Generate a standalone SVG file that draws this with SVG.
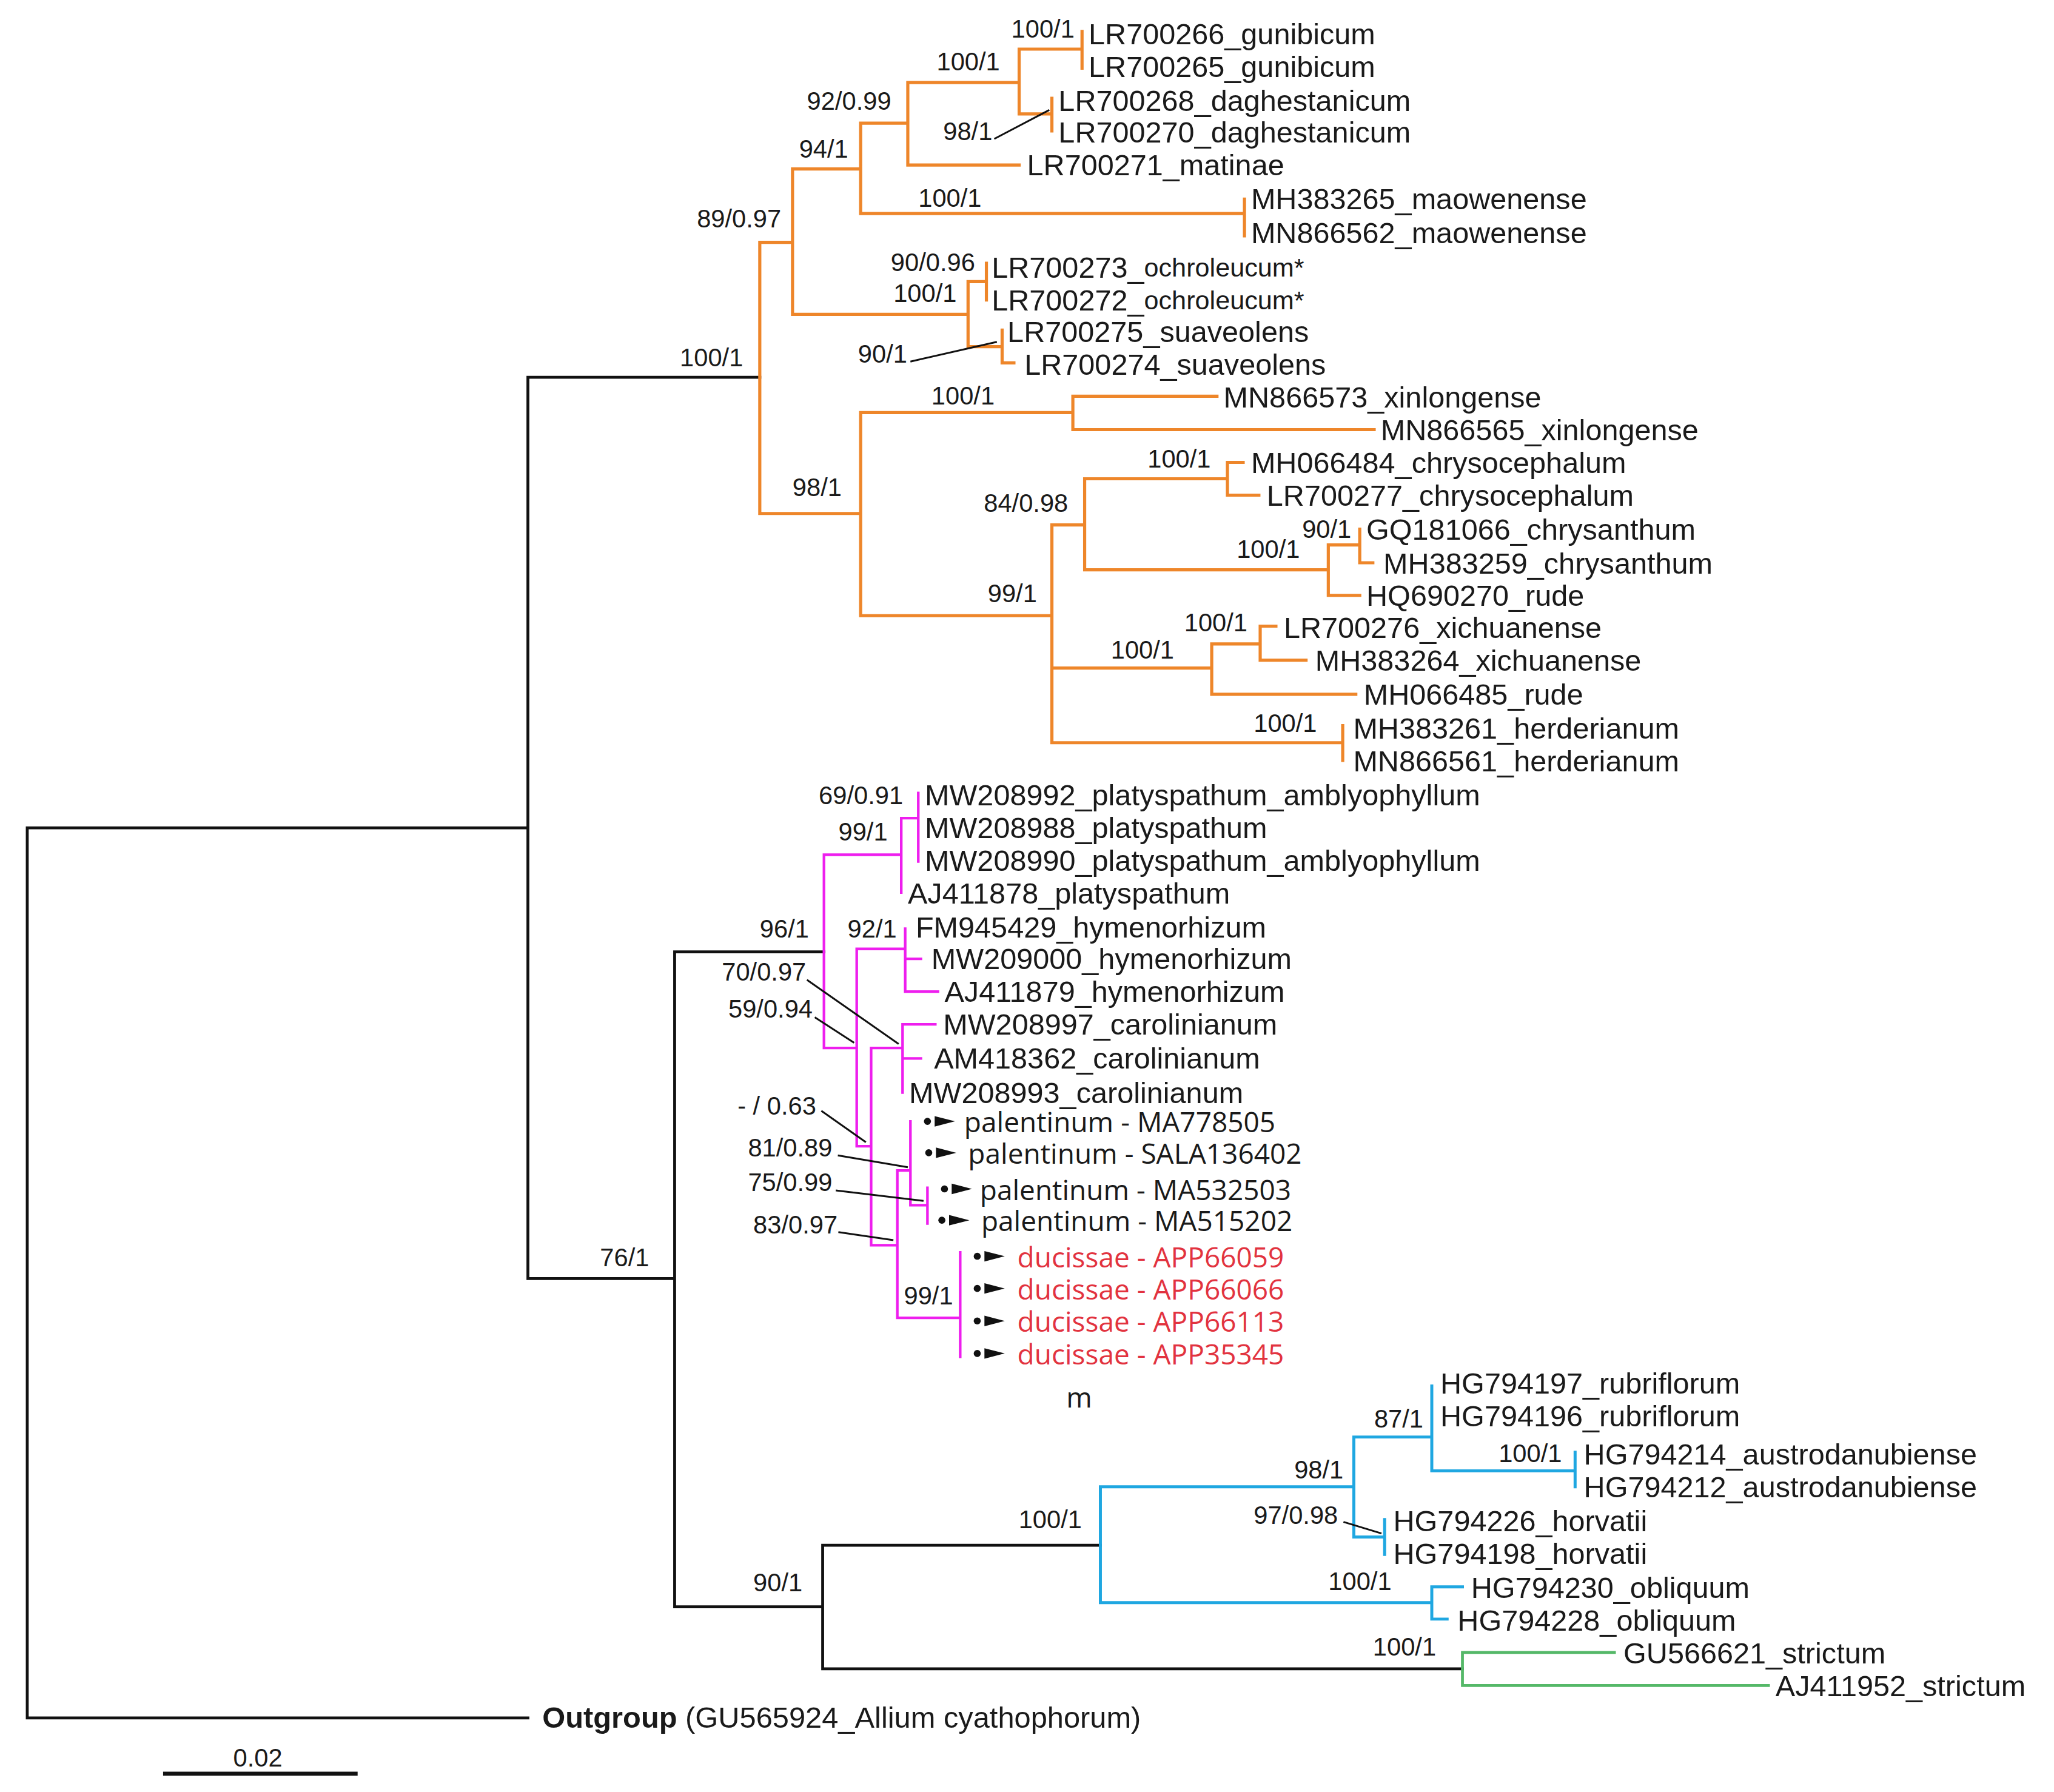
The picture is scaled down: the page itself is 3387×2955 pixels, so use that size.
<svg xmlns="http://www.w3.org/2000/svg" xmlns:xlink="http://www.w3.org/1999/xlink" width="3387" height="2955" viewBox="0 0 3387 2955">
<style>
.ln{fill:none;stroke-linecap:square;stroke-linejoin:miter}
.bk{stroke:#111;stroke-width:2.2}
.or{stroke:#EE862A;stroke-width:2.4}
.mg{stroke:#EE1EEE;stroke-width:2}
.bl{stroke:#1FA7E1;stroke-width:2.3}
.gr{stroke:#55B868;stroke-width:2.2}
.ld{stroke:#111;stroke-width:1.4;fill:none}
text{dominant-baseline:central}
.t{font-family:"Liberation Sans",Arial,sans-serif;font-size:22.5px;fill:#1a1a1a}
.o2{font-size:20px}
.s{font-family:"Liberation Sans",Arial,sans-serif;font-size:19.3px;fill:#1a1a1a}
.p{font-family:"Open Sans","Noto Sans",sans-serif;font-size:21.3px;fill:#1a1a1a}
.r{fill:#E2333F}
.og{font-family:"Liberation Sans",Arial,sans-serif;font-size:22.6px;fill:#1a1a1a}
</style>
<defs>
<g id="mk"><circle cx="0" cy="0" r="2.7" fill="#111"/><polygon points="5.5,-4 21,0 5.5,4" fill="#111"/></g>
</defs>
<rect x="0" y="0" width="3387" height="2955" fill="#fff"/>
<g transform="scale(2.1601)">
<g id="connectors">
<path class="ln bk" d="M20.8,632V1311.4 M20.8,632H403 M20.8,1311.4H403 M403,288V976 M403,288H580 M403,976H515 M515,726.6V1226.6 M515,726.6H629 M515,1226.6H628 M628,1179.6V1274 M628,1179.6H840 M628,1274H1116.4"/>
<path class="ln or" d="M580,185V392 M580,185H605 M605,129V240 M605,129H657 M657,94V163 M657,94H693 M693,63V126 M693,63H778 M778,37.5V87 M778,37.5H826 M826,24V52 M778,87H803 M803,75V100 M693,126H778 M657,163H950 M950,152V180 M605,240H739 M739,215V264.6 M739,215H753 M753,201V229 M739,264.6H765 M765,252V277 M765,277H774 M580,392H657 M657,315V470 M657,315H819 M819,302.5V328 M819,302.5H929 M819,328H1049 M657,470H803 M803,400.7V567 M803,400.7H828 M828,365.5V435 M828,365.5H937 M937,353V378 M937,353H949 M937,378H961 M828,435H1014 M1014,416V454.5 M1014,416H1038 M1038,404V429.6 M1038,429.6H1048 M1014,454.5H1038 M803,510H925 M925,491.6V530 M925,491.6H962 M962,478V504 M962,478H974 M962,504H997 M925,530H1035 M803,567H1025 M1025,554V580.5"/>
<path class="ln mg" d="M629,652.5V800 M629,652.5H688 M688,624.6V681.4 M688,624.6H701 M701,605.4V657.6 M629,800H654 M654,724.4V875 M654,724.4H691 M691,709V757 M691,732H703 M691,757H716 M654,875H665 M665,800V950.6 M665,800H689 M689,782V834 M689,782H714 M689,808H703 M665,950.6H685 M685,893.5V1006 M685,893.5H695 M695,856V920 M695,920H708 M708,906.8V934 M685,1006H733 M733,956V1035.7"/>
<path class="ln bl" d="M840,1135V1223.4 M840,1135H1033.5 M1033.5,1097V1173.3 M1033.5,1097H1093 M1093,1058V1122.8 M1093,1122.8H1202.4 M1202.4,1108.6V1135 M1033.5,1173.3H1057 M1057,1160V1186.6 M840,1223.4H1093 M1093,1211.4V1236 M1093,1211.4H1116.4 M1093,1236H1104.7"/>
<path class="ln gr" d="M1116.4,1261.5V1286.7 M1116.4,1261.5H1232.4 M1116.4,1286.7H1350"/>
<path class="ld" d="M759,106L801,84 M695,276L761,261 M616,748L686,797 M622,776.6L652,796 M627,848L661,872 M639.6,882L693,891 M638,908.7L705,916.7 M640,940.6L682,946.7 M1025.6,1161.8L1054.6,1170.6"/>
<path d="M124.5,1354H273" stroke="#111" stroke-width="3" fill="none"/>
</g>
<g id="support">
<text class="s" x="519" y="273">100/1</text>
<text class="s" x="458" y="960">76/1</text>
<text class="s" x="580" y="709">96/1</text>
<text class="s" x="575" y="1208">90/1</text>
<text class="s" x="777.6" y="1160">100/1</text>
<text class="s" x="1048" y="1257">100/1</text>
<text class="s" x="772" y="22">100/1</text>
<text class="s" x="715" y="47">100/1</text>
<text class="s" x="616" y="77">92/0.99</text>
<text class="s" x="720" y="100">98/1</text>
<text class="s" x="610" y="113.5">94/1</text>
<text class="s" x="701" y="151">100/1</text>
<text class="s" x="532" y="167">89/0.97</text>
<text class="s" x="680" y="200">90/0.96</text>
<text class="s" x="682" y="224">100/1</text>
<text class="s" x="655" y="270">90/1</text>
<text class="s" x="605" y="372">98/1</text>
<text class="s" x="711" y="302">100/1</text>
<text class="s" x="751" y="384">84/0.98</text>
<text class="s" x="876" y="350">100/1</text>
<text class="s" x="994" y="404">90/1</text>
<text class="s" x="944" y="419">100/1</text>
<text class="s" x="754" y="453">99/1</text>
<text class="s" x="904" y="475">100/1</text>
<text class="s" x="848" y="496">100/1</text>
<text class="s" x="957" y="552">100/1</text>
<text class="s" x="625" y="607">69/0.91</text>
<text class="s" x="640" y="635">99/1</text>
<text class="s" x="647" y="709">92/1</text>
<text class="s" x="551" y="742">70/0.97</text>
<text class="s" x="556" y="770">59/0.94</text>
<text class="s" x="563" y="844">- / 0.63</text>
<text class="s" x="571" y="876">81/0.89</text>
<text class="s" x="571" y="902.6">75/0.99</text>
<text class="s" x="575" y="935">83/0.97</text>
<text class="s" x="690" y="989">99/1</text>
<text class="s" x="1049" y="1083">87/1</text>
<text class="s" x="1144" y="1109.5">100/1</text>
<text class="s" x="988" y="1122">98/1</text>
<text class="s" x="957" y="1156.5">97/0.98</text>
<text class="s" x="1014" y="1207">100/1</text>
<text class="s" x="178" y="1342">0.02</text>
</g>
<g id="tip-LR700266"><text class="t" x="831" y="26">LR700266_gunibicum</text></g>
<g id="tip-LR700265"><text class="t" x="831" y="51">LR700265_gunibicum</text></g>
<g id="tip-LR700268"><text class="t" x="808" y="77">LR700268_daghestanicum</text></g>
<g id="tip-LR700270"><text class="t" x="808" y="101">LR700270_daghestanicum</text></g>
<g id="tip-LR700271"><text class="t" x="784" y="126">LR700271_matinae</text></g>
<g id="tip-MH383265"><text class="t" x="955" y="152">MH383265_maowenense</text></g>
<g id="tip-MN866562"><text class="t" x="955" y="178">MN866562_maowenense</text></g>
<g id="tip-LR700273"><text class="t" x="757" y="204">LR700273_<tspan class="o2">ochroleucum*</tspan></text></g>
<g id="tip-LR700272"><text class="t" x="757" y="229">LR700272_<tspan class="o2">ochroleucum*</tspan></text></g>
<g id="tip-LR700275"><text class="t" x="769" y="253">LR700275_suaveolens</text></g>
<g id="tip-LR700274"><text class="t" x="782" y="278">LR700274_suaveolens</text></g>
<g id="tip-MN866573"><text class="t" x="934" y="303">MN866573_xinlongense</text></g>
<g id="tip-MN866565"><text class="t" x="1054" y="328">MN866565_xinlongense</text></g>
<g id="tip-MH066484"><text class="t" x="955" y="353">MH066484_chrysocephalum</text></g>
<g id="tip-LR700277"><text class="t" x="967" y="378">LR700277_chrysocephalum</text></g>
<g id="tip-GQ181066"><text class="t" x="1043" y="404">GQ181066_chrysanthum</text></g>
<g id="tip-MH383259"><text class="t" x="1056" y="430">MH383259_chrysanthum</text></g>
<g id="tip-HQ690270"><text class="t" x="1043" y="454.5">HQ690270_rude</text></g>
<g id="tip-LR700276"><text class="t" x="980" y="479">LR700276_xichuanense</text></g>
<g id="tip-MH383264"><text class="t" x="1004" y="504">MH383264_xichuanense</text></g>
<g id="tip-MH066485"><text class="t" x="1041" y="530">MH066485_rude</text></g>
<g id="tip-MH383261"><text class="t" x="1033" y="556">MH383261_herderianum</text></g>
<g id="tip-MN866561"><text class="t" x="1033" y="581">MN866561_herderianum</text></g>
<g id="tip-MW208992"><text class="t" x="706" y="607">MW208992_platyspathum_amblyophyllum</text></g>
<g id="tip-MW208988"><text class="t" x="706" y="632">MW208988_platyspathum</text></g>
<g id="tip-MW208990"><text class="t" x="706" y="657">MW208990_platyspathum_amblyophyllum</text></g>
<g id="tip-AJ411878"><text class="t" x="693" y="682">AJ411878_platyspathum</text></g>
<g id="tip-FM945429"><text class="t" x="699" y="708">FM945429_hymenorhizum</text></g>
<g id="tip-MW209000"><text class="t" x="711" y="732">MW209000_hymenorhizum</text></g>
<g id="tip-AJ411879"><text class="t" x="721" y="757">AJ411879_hymenorhizum</text></g>
<g id="tip-MW208997"><text class="t" x="720" y="782">MW208997_carolinianum</text></g>
<g id="tip-AM418362"><text class="t" x="713" y="808">AM418362_carolinianum</text></g>
<g id="tip-MW208993"><text class="t" x="694" y="834">MW208993_carolinianum</text></g>
<g id="tip-MA778505"><use xlink:href="#mk" x="708" y="856"/><text class="p" x="736" y="856">palentinum - MA778505</text></g>
<g id="tip-SALA136402"><use xlink:href="#mk" x="709" y="880"/><text class="p" x="739" y="880">palentinum - SALA136402</text></g>
<g id="tip-MA532503"><use xlink:href="#mk" x="721" y="907.6"/><text class="p" x="748" y="907.6">palentinum - MA532503</text></g>
<g id="tip-MA515202"><use xlink:href="#mk" x="719" y="931.5"/><text class="p" x="749" y="931.5">palentinum - MA515202</text></g>
<g id="tip-APP66059"><use xlink:href="#mk" x="746" y="959"/><text class="p r" x="776.6" y="959">ducissae - APP66059</text></g>
<g id="tip-APP66066"><use xlink:href="#mk" x="746" y="983.6"/><text class="p r" x="776.6" y="983.6">ducissae - APP66066</text></g>
<g id="tip-APP66113"><use xlink:href="#mk" x="746" y="1008.4"/><text class="p r" x="776.6" y="1008.4">ducissae - APP66113</text></g>
<g id="tip-APP35345"><use xlink:href="#mk" x="746" y="1033.2"/><text class="p r" x="776.6" y="1033.2">ducissae - APP35345</text></g>
<g id="label-m"><text class="p" x="814" y="1066">m</text></g>
<g id="tip-HG794197"><text class="t" x="1099.5" y="1056">HG794197_rubriflorum</text></g>
<g id="tip-HG794196"><text class="t" x="1099.5" y="1081">HG794196_rubriflorum</text></g>
<g id="tip-HG794214"><text class="t" x="1209" y="1110">HG794214_austrodanubiense</text></g>
<g id="tip-HG794212"><text class="t" x="1209" y="1135">HG794212_austrodanubiense</text></g>
<g id="tip-HG794226"><text class="t" x="1063.6" y="1161">HG794226_horvatii</text></g>
<g id="tip-HG794198"><text class="t" x="1063.6" y="1186">HG794198_horvatii</text></g>
<g id="tip-HG794230"><text class="t" x="1123" y="1212">HG794230_obliquum</text></g>
<g id="tip-HG794228"><text class="t" x="1112.6" y="1237">HG794228_obliquum</text></g>
<g id="tip-GU566621"><text class="t" x="1239.3" y="1262">GU566621_strictum</text></g>
<g id="tip-AJ411952"><text class="t" x="1355.4" y="1287">AJ411952_strictum</text></g>
<g id="tip-outgroup"><text class="og" x="414" y="1311"><tspan font-weight="bold">Outgroup</tspan> (GU565924_Allium cyathophorum)</text></g>
</g>
</svg>
